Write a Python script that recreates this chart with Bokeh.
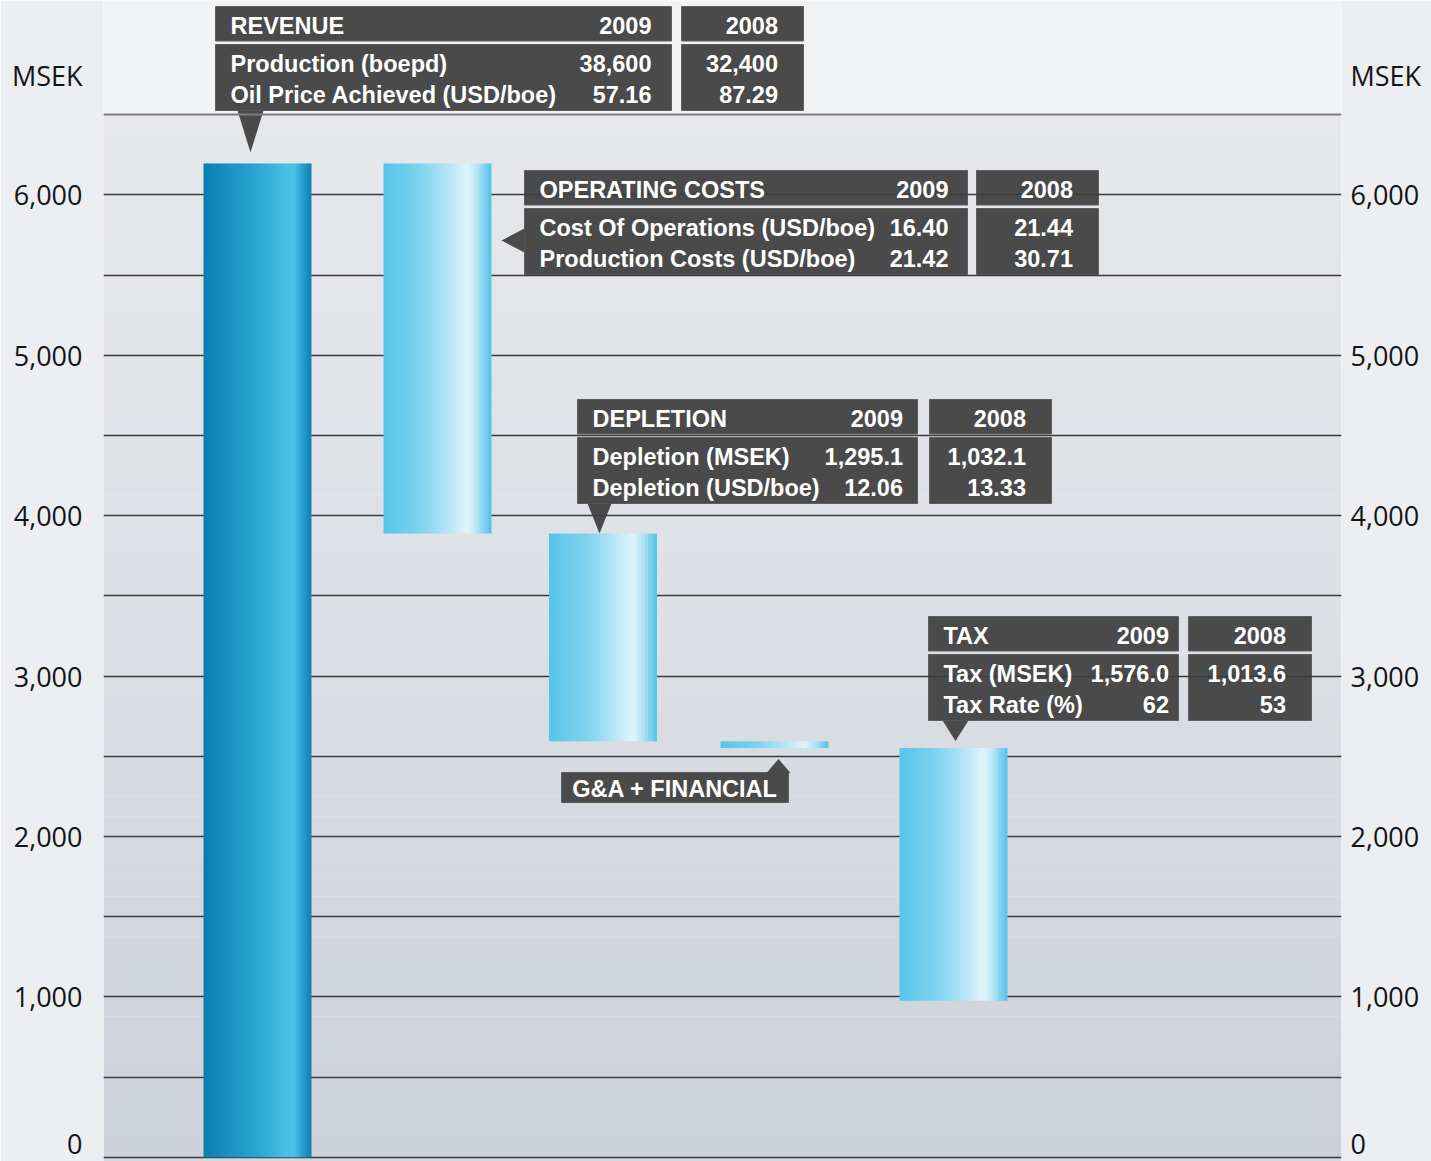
import numpy as np
from bokeh.plotting import figure
from bokeh.models import Range1d, LinearAxis, FixedTicker
from bokeh.core.properties import value
from bokeh.embed import file_html
from bokeh.resources import INLINE

# ---------------- data ----------------
steps = ["Revenue", "Operating costs", "Depletion", "G&A + financial", "Tax"]
step_values = [6195.0, -2307.0, -1295.1, -42.0, -1576.0]   # MSEK
tick_values = [0, 1000, 2000, 3000, 4000, 5000, 6000]
tick_labels = ["0", "1,000", "2,000", "3,000", "4,000", "5,000", "6,000"]
grid_values = [0, 500, 1000, 1500, 2000, 2500, 3000, 3500, 4000, 4500, 5000, 5500, 6000]
axis_top = 6500
axis_unit = "MSEK"
year_headers = ["2009", "2008"]

revenue_title = "REVENUE"
revenue_rows = ["Production (boepd)", "Oil Price Achieved (USD/boe)"]
revenue_2009 = ["38,600", "57.16"]
revenue_2008 = ["32,400", "87.29"]

opcost_title = "OPERATING COSTS"
opcost_rows = ["Cost Of Operations (USD/boe)", "Production Costs (USD/boe)"]
opcost_2009 = ["16.40", "21.42"]
opcost_2008 = ["21.44", "30.71"]

depletion_title = "DEPLETION"
depletion_rows = ["Depletion (MSEK)", "Depletion (USD/boe)"]
depletion_2009 = ["1,295.1", "12.06"]
depletion_2008 = ["1,032.1", "13.33"]

tax_title = "TAX"
tax_rows = ["Tax (MSEK)", "Tax Rate (%)"]
tax_2009 = ["1,576.0", "62"]
tax_2008 = ["1,013.6", "53"]

ga_label = "G&A + FINANCIAL"

# ---------------- waterfall ----------------
tops, bottoms = [], []
running = 0.0
for v in step_values:
    if v >= 0:
        bottoms.append(running); running += v; tops.append(running)
    else:
        tops.append(running); running += v; bottoms.append(running)

# ---------------- layout ----------------
W, H = 1431, 1161
FX0, FX1 = 103, 1341
PX0, K = 1156.7, 0.1604          # pixel of value 0, pixels per MSEK


def yv(px):
    return (PX0 - px) / K


bar_x = [257, 437, 602.5, 774, 953]
bar_w = 108

BORDER = "#eceef1"
p = figure(width=W, height=H, x_range=Range1d(FX0, FX1), y_range=Range1d(yv(H), yv(0)),
           output_backend="svg", toolbar_location=None, x_axis_location=None,
           y_axis_location="left", min_border_left=FX0, min_border_right=W - FX1,
           min_border_top=0, min_border_bottom=0, background_fill_color="#f2f3f5",
           border_fill_color=BORDER, outline_line_color=None)
p.xgrid.visible = False
p.ygrid.visible = False

msek_pos = int(round(yv(75)))
ticker = FixedTicker(ticks=tick_values + [msek_pos], minor_ticks=[])
overrides = {t: l for t, l in zip(tick_values, tick_labels)}
overrides[msek_pos] = axis_unit

right_axis = LinearAxis()
p.add_layout(right_axis, "right")
for ax, standoff in ((p.yaxis[0], 21), (right_axis, 9)):
    ax.ticker = ticker
    ax.major_label_overrides = overrides
    ax.axis_line_color = None
    ax.major_tick_line_color = None
    ax.minor_tick_line_color = None
    ax.major_tick_out = 0
    ax.major_tick_in = 0
    ax.major_label_standoff = standoff
    ax.major_label_text_font = "Open Sans"
    ax.major_label_text_font_size = "27px"
    ax.major_label_text_color = "#141414"


# ---------------- colour helpers ----------------
def h2r(h):
    return np.array([int(h[i:i + 2], 16) for i in (1, 3, 5)], dtype=float)


def interp(stops, t):
    for (t0, c0), (t1, c1) in zip(stops[:-1], stops[1:]):
        if t0 <= t <= t1:
            f = 0 if t1 == t0 else (t - t0) / (t1 - t0)
            c = h2r(c0) * (1 - f) + h2r(c1) * f
            return "#%02x%02x%02x" % tuple(int(round(x)) for x in c)
    return stops[-1][1]


# ---------------- plot-area background ----------------
bg_stops = [(0.0, "#e7e8eb"), (0.5, "#dcdfe4"), (1.0, "#cdd1d9")]
nb = 52
band_edges = np.linspace(axis_top, 0, nb + 1)
bl, br, bt, bb, bc = [], [], [], [], []
for i in range(nb):
    bl.append(FX0); br.append(FX1)
    bt.append(band_edges[i] + 1); bb.append(band_edges[i + 1])
    bc.append(interp(bg_stops, (i + 0.5) / nb))
bl.append(FX0); br.append(FX1); bt.append(0); bb.append(yv(H)); bc.append("#d3d7de")
p.quad(left=bl, right=br, top=bt, bottom=bb, fill_color=bc, line_color=None)

# ---------------- callout boxes ----------------
BOX = "#4a4a4a"
box_l, box_r, box_t, box_b = [], [], [], []
tri_xs, tri_ys = [], []
txt_l = {"x": [], "y": [], "t": []}
txt_r = {"x": [], "y": [], "t": []}


def callout(x, y, w1, gap, w2, pad_num, title, rows, v09, v08):
    x2 = x + w1 + gap
    for (l, r) in ((x, x + w1), (x2, x2 + w2)):
        box_l.extend([l, l]); box_r.extend([r, r])
        box_t.extend([yv(y), yv(y + 38)]); box_b.extend([yv(y + 34.5), yv(y + 104)])
    txt_l["x"].append(x + 15); txt_l["y"].append(yv(y + 19)); txt_l["t"].append(title)
    txt_r["x"].extend([x + w1 - pad_num, x2 + w2 - 25.5])
    txt_r["y"].extend([yv(y + 19)] * 2); txt_r["t"].extend(year_headers)
    for k, (lab, a, b) in enumerate(zip(rows, v09, v08)):
        yy = yv(y + 57 + 31 * k)
        txt_l["x"].append(x + 15); txt_l["y"].append(yy); txt_l["t"].append(lab)
        txt_r["x"].extend([x + w1 - pad_num, x2 + w2 - 25.5])
        txt_r["y"].extend([yy, yy]); txt_r["t"].extend([a, b])


callout(215, 6, 456, 10, 122, 20, revenue_title, revenue_rows, revenue_2009, revenue_2008)
callout(524, 170, 443, 9, 122, 19, opcost_title, opcost_rows, opcost_2009, opcost_2008)
callout(577, 399, 340, 12, 122, 14.5, depletion_title, depletion_rows, depletion_2009, depletion_2008)
callout(928, 616, 250, 10, 123, 9.5, tax_title, tax_rows, tax_2009, tax_2008)

# G&A label box
box_l.append(561); box_r.append(788); box_t.append(yv(772)); box_b.append(yv(802))

# pointers (tips anchored on bars)
tip = tops[0] + 11 / K
tri_xs.append([237, 263, 250]); tri_ys.append([yv(110), yv(110), tip])
tri_xs.append([524, 524, 501]); tri_ys.append([yv(228), yv(252), yv(240)])
tri_xs.append([587, 611, 599]); tri_ys.append([yv(503), yv(503), tops[2]])
tri_xs.append([942, 968, 955]); tri_ys.append([yv(720), yv(720), tops[4] + 7 / K])
tri_xs.append([766, 790, 778]); tri_ys.append([yv(772.5), yv(772.5), bottoms[3] - 11 / K])

p.quad(left=box_l, right=box_r, top=box_t, bottom=box_b, fill_color=BOX,
       line_color="#5e5e5e", line_width=1)
p.patches(xs=tri_xs, ys=tri_ys, fill_color=BOX, line_color=None)

# ---------------- gridlines ----------------
p.hspan(y=grid_values, line_color="#3c3c3c", line_width=1.4)
p.hspan(y=[axis_top], line_color="#7c7c7c", line_width=2)

# ---------------- bars (gradient strips) ----------------
rev_stops = [(0.0, "#0a7db0"), (0.25, "#1b93c4"), (0.5, "#2aa6d3"), (0.75, "#46bfe5"),
             (0.84, "#4cc3e8"), (0.92, "#2a9ccc"), (1.0, "#0a80b3")]
cost_stops = [(0.0, "#55c5ea"), (0.35, "#80d3ef"), (0.6, "#b5e5f6"), (0.78, "#e0f4fb"),
              (0.86, "#b9e6f6"), (1.0, "#50c1e7")]
N = 36
sl, sr, st, sb, sc = [], [], [], [], []
for i in range(len(step_values)):
    stops = rev_stops if i == 0 else cost_stops
    x0 = bar_x[i] - bar_w / 2
    for j in range(N):
        l = x0 + j * bar_w / N
        r = min(l + bar_w / N + 0.7, x0 + bar_w)
        sl.append(l); sr.append(r); st.append(tops[i]); sb.append(bottoms[i])
        sc.append(interp(stops, (j + 0.5) / N))
p.quad(left=sl, right=sr, top=st, bottom=sb, fill_color=sc, line_color=None)

# ---------------- texts ----------------
FONT = value("Liberation Sans")
p.text(x=txt_l["x"], y=txt_l["y"], text=txt_l["t"], text_font=FONT, text_font_style="bold",
       text_font_size="23.5px", text_color="white", text_align="left", text_baseline="middle")
p.text(x=txt_r["x"], y=txt_r["y"], text=txt_r["t"], text_font=FONT, text_font_style="bold",
       text_font_size="23.5px", text_color="white", text_align="right", text_baseline="middle")
p.text(x=[674.5], y=[yv(788)], text=[ga_label], text_font=FONT, text_font_style="bold",
       text_font_size="23.5px", text_color="white", text_align="center", text_baseline="middle")

open("out.html", "w").write(file_html(p, INLINE))
